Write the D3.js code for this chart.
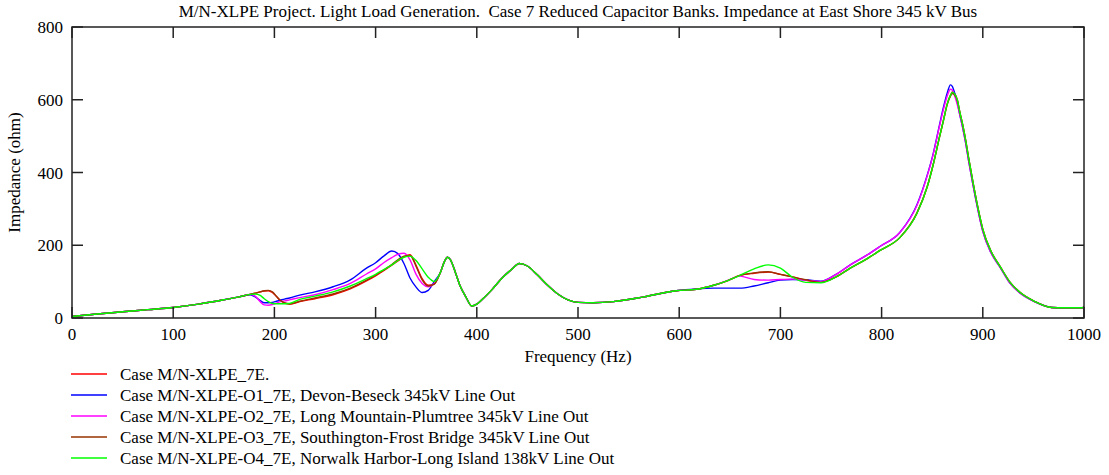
<!DOCTYPE html>
<html>
<head>
<meta charset="utf-8">
<script src="https://d3js.org/d3.v7.min.js"></script>
<title>Impedance at East Shore 345 kV Bus</title>
<style>
  body { margin: 0; background: #fff; }
  svg { display: block; }
  text { font-family: "Liberation Serif", "Times New Roman", serif; font-size: 17px; fill: #000; }
  .frame { fill: none; stroke: #222; stroke-width: 1.5px; }
  .tick { stroke: #222; stroke-width: 1.5px; }
  .series { fill: none; stroke-width: 1.4px; stroke-linejoin: round; }
</style>
</head>
<body>
<svg width="1109" height="475"></svg>
<script>
// frequency grid (Hz), shared by all cases
const freqHz = [0,25,50,75,100,125,150,165,176,181,186,190,194,198,202,206,210,215,225,240,
  258,275,291,300,308,316,322,328,334,340,346,352,358,364,368,371,374,379,384,389,
  395,400,405,415,425,435,442,450,460,470,480,490,500,515,535,565,597,617,634,648,
  660,674,688,700,712,725,740,755,769,785,798,818,835,845,851,857,861,865,868,870,
  872,875,877,880,883,886,890,895,900,908,917,927,937,951,968,980,998,1000];

// impedance (ohm)
const zBase = [4,11,17,23,29,38,50,58,65,68,72,74,75,70,59,48,41,38,45,53,
  64,80,102,116,130,145,157,168,174,145,108,90,94,125,155,167,160,124,85,59,
  33,38,50,78,110,135,150,143,118,90,66,50,43,42,45,58,75,79,90,103,
  117,123,126,120,113,104,98,113,137,162,185,221,289,360,422,495,542,590,612,622,
  618,598,570,533,490,440,378,306,244,184,142,98,70,46,29,28,28,31];
const zO1 = [4,11,17,23,29,38,50,58,64,58,48,42,42,43,46,49,52,55,63,72,
  86,105,137,152,170,184,177,150,110,85,70,76,100,125,155,167,160,124,85,59,
  33,38,50,78,110,135,150,143,118,90,66,50,43,42,45,58,75,80,82,82,
  82,88,97,104,106,105,101,120,146,172,196,235,312,392,452,528,578,620,641,636,
  620,590,562,525,482,432,370,300,238,180,140,95,68,45,29,28,28,31];
const zO2 = [4,11,17,23,29,38,50,58,65,60,45,36,35,37,41,45,47,50,56,64,
  78,95,121,135,152,166,175,178,160,120,95,86,95,125,155,167,160,124,85,59,
  33,38,50,78,110,135,150,143,118,90,66,50,43,42,45,58,75,79,90,103,
  115,106,104,106,107,104,100,120,146,172,196,235,310,390,450,525,572,612,629,626,
  612,585,562,525,482,432,370,300,238,180,140,95,68,45,29,28,28,31];
const zO3 = [4,11,17,23,29,38,50,58,65,68,72,75,76,72,60,48,42,39,46,55,
  66,82,104,118,132,147,160,170,172,142,105,88,93,125,155,167,160,124,85,59,
  33,38,50,78,110,135,150,143,118,90,66,50,43,42,45,58,75,79,90,103,
  117,124,127,120,113,105,98,113,137,162,185,221,289,360,422,495,542,588,610,617,
  614,596,569,532,489,439,377,305,243,184,142,98,70,46,29,28,28,31];
const zO4 = [4,11,17,23,29,38,50,58,65,66,62,53,45,40,39,39,39,40,51,60,
  72,88,108,120,133,146,158,167,170,158,135,112,100,125,155,167,160,124,85,59,
  33,38,50,78,110,135,150,143,118,90,66,50,43,42,45,58,75,79,90,103,
  117,135,146,137,112,98,97,113,137,162,185,221,288,360,422,495,542,590,612,621,
  617,598,570,533,490,440,378,306,244,184,142,98,70,46,29,28,28,31];

const caseNames = [
  "Case M/N-XLPE_7E.",
  "Case M/N-XLPE-O1_7E, Devon-Beseck 345kV Line Out",
  "Case M/N-XLPE-O2_7E, Long Mountain-Plumtree 345kV Line Out",
  "Case M/N-XLPE-O3_7E, Southington-Frost Bridge 345kV Line Out",
  "Case M/N-XLPE-O4_7E, Norwalk Harbor-Long Island 138kV Line Out"
];
const caseValues = [zBase, zO1, zO2, zO3, zO4];
const caseColors = ["#ff0000", "#0000ff", "#ff00ff", "#993300", "#00ff00"];
const xTicks = [0,100,200,300,400,500,600,700,800,900,1000];
const yTicks = [0,200,400,600,800];

const svg = d3.select("svg");
const plotL = 72, plotR = 1084, plotT = 27, plotB = 318;

const x = d3.scaleLinear().domain([0, 1000]).range([plotL, plotR]);
const y = d3.scaleLinear().domain([0, 800]).range([plotB, plotT]);

// title
svg.append("text")
  .attr("x", (plotL + plotR) / 2).attr("y", 17)
  .attr("text-anchor", "middle")
  .style("white-space", "pre")
  .text("M/N-XLPE Project. Light Load Generation.  Case 7 Reduced Capacitor Banks. Impedance at East Shore 345 kV Bus");

// curves
const line = d3.line()
  .x((d, i) => x(freqHz[i]))
  .y(d => y(d))
  .curve(d3.curveMonotoneX);

const g = svg.append("g");
caseValues.forEach((vals, k) => {
  g.append("path")
    .attr("class", "series")
    .attr("stroke", caseColors[k])
    .attr("d", line(vals));
});

// frame
svg.append("rect").attr("class", "frame")
  .attr("x", plotL).attr("y", plotT)
  .attr("width", plotR - plotL).attr("height", plotB - plotT);

// ticks, inward on all four sides
const tl = 11;
xTicks.forEach(t => {
  svg.append("line").attr("class", "tick")
    .attr("x1", x(t)).attr("x2", x(t)).attr("y1", plotB).attr("y2", plotB - tl);
  svg.append("line").attr("class", "tick")
    .attr("x1", x(t)).attr("x2", x(t)).attr("y1", plotT).attr("y2", plotT + tl);
  svg.append("text")
    .attr("x", x(t)).attr("y", 340)
    .attr("text-anchor", "middle")
    .text(t);
});
yTicks.forEach(t => {
  svg.append("line").attr("class", "tick")
    .attr("x1", plotL).attr("x2", plotL + tl).attr("y1", y(t)).attr("y2", y(t));
  svg.append("line").attr("class", "tick")
    .attr("x1", plotR).attr("x2", plotR - tl).attr("y1", y(t)).attr("y2", y(t));
  svg.append("text")
    .attr("x", 63).attr("y", y(t) + 6)
    .attr("text-anchor", "end")
    .text(t);
});

// axis titles
svg.append("text")
  .attr("x", (plotL + plotR) / 2).attr("y", 362)
  .attr("text-anchor", "middle")
  .text("Frequency (Hz)");
svg.append("text")
  .attr("transform", "translate(20," + ((plotT + plotB) / 2) + ") rotate(-90)")
  .attr("text-anchor", "middle")
  .text("Impedance (ohm)");

// legend
caseNames.forEach((name, k) => {
  const ly = 374 + k * 21;
  svg.append("line")
    .attr("x1", 71).attr("x2", 107).attr("y1", ly).attr("y2", ly)
    .attr("stroke", caseColors[k]).attr("stroke-width", 1.5);
  svg.append("text")
    .attr("x", 120).attr("y", ly + 6)
    .text(name);
});
</script>
</body>
</html>
